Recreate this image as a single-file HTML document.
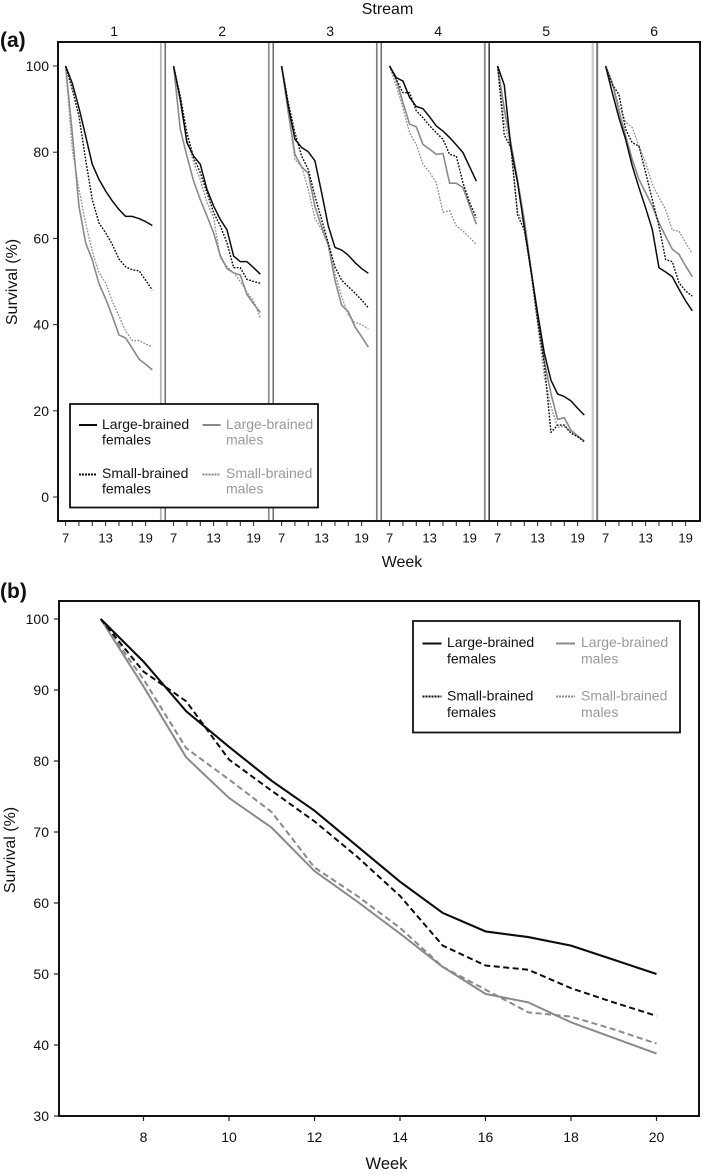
<!DOCTYPE html>
<html lang="en">
<head>
<meta charset="utf-8">
<title>Survival by stream and week</title>
<style>
html,body{margin:0;padding:0;background:#fff;}
body{width:703px;height:1175px;overflow:hidden;}
svg{display:block;font-family:"Liberation Sans",sans-serif;fill:#111;}
</style>
</head>
<body>
<svg id="chart" width="703" height="1175" viewBox="0 0 703 1175" xmlns="http://www.w3.org/2000/svg"></svg>
<script>
// ---------- panel (a): survival (%) per stream, weeks 7..20 ----------
const streamLabels = ["1", "2", "3", "4", "5", "6"];
const weeksA = [7, 8, 9, 10, 11, 12, 13, 14, 15, 16, 17, 18, 19, 20];
const yTicksA = [100, 80, 60, 40, 20, 0];
const xTicksA = [7, 9, 11, 13, 15, 17, 19];
const xTickLabelsA = [7, 13, 19];
const largeFemalesA = [
  [100, 96, 90.3, 83.8, 77.2, 73.7, 71, 68.7, 66.7, 65.1, 65.1, 64.6, 63.9, 63],
  [100, 92.3, 82.2, 79.1, 77.2, 71.4, 67.5, 64.4, 62, 55.9, 54.6, 54.6, 53.2, 51.7],
  [100, 90.7, 83, 81.1, 80.1, 78, 70.6, 62.9, 57.9, 57.3, 56.1, 54.4, 53, 51.9],
  [100, 97.3, 96.5, 92.7, 90.6, 90.1, 88.2, 86.1, 84.9, 83.4, 81.7, 79.9, 76.6, 73.3],
  [100, 95.6, 81, 72.9, 62.7, 52.7, 42.7, 33.4, 27.1, 23.9, 23.3, 22.3, 20.6, 19],
  [100, 93.8, 88, 83, 76.8, 71.8, 67.1, 62.1, 53.2, 52.2, 51.1, 48.2, 45.5, 43.2]
];
const smallFemalesA = [
  [100, 94.6, 88.4, 78.3, 69, 63.6, 61.3, 58.6, 55.2, 53.4, 52.7, 52.5, 50.3, 48],
  [100, 93, 84.5, 78.7, 75.3, 70.6, 66, 62.9, 59, 53.2, 53.2, 50.5, 50, 49.6],
  [100, 91.5, 84.5, 79.1, 76, 69.8, 64.4, 58.9, 53.4, 50.3, 48.8, 47.3, 45.7, 43.9],
  [100, 96.9, 93.8, 93.8, 89.6, 88, 86.1, 84.5, 83, 79.5, 79.1, 72.9, 68.3, 64.8],
  [100, 84, 81, 65.4, 62, 52.5, 41, 31, 15, 16.7, 16.7, 14.8, 14, 12.8],
  [100, 95.7, 93.4, 85.3, 82.2, 81.4, 75.3, 69, 62.9, 55.1, 54.6, 49.7, 47.8, 46.6]
];
const largeMalesA = [
  [100, 84.5, 67.5, 59, 55, 49.5, 46, 42, 37.6, 36.9, 34.5, 32, 30.8, 29.5],
  [100, 85.3, 79.1, 73.3, 69, 65.2, 61.3, 56, 53, 52, 51.5, 47, 44.8, 42.8],
  [100, 89.2, 79.5, 76.6, 75.1, 67.4, 62.7, 58.5, 50.3, 44.5, 43, 39.5, 37.2, 34.8],
  [100, 96.9, 91.5, 86.5, 85.9, 81.8, 80.7, 79.5, 79.7, 72.8, 72.8, 71.8, 67.5, 63.3],
  [100, 90, 82, 73.5, 64.3, 53, 41.5, 31.5, 24, 18, 18.4, 15.5, 14.2, 13],
  [100, 96.1, 89.6, 83.8, 78.3, 73.7, 70.6, 67.5, 63.6, 60.5, 57.5, 56.3, 53.6, 51.1]
];
const smallMalesA = [
  [100, 80.7, 71.4, 63.6, 57, 52, 49.7, 45.4, 42, 38.5, 36.3, 36.3, 35.5, 34.8],
  [100, 91.5, 83, 77.6, 73.7, 68.3, 64.8, 55.5, 53.5, 52, 50, 47.5, 45.5, 41.5],
  [100, 90, 78.2, 76.8, 71.2, 64.7, 62, 58.5, 52, 46.5, 42.2, 40.5, 40, 39],
  [100, 95.4, 90.3, 84.5, 81.8, 77.2, 75.3, 72.9, 66.1, 66.4, 62.9, 61.7, 60.2, 58.6],
  [100, 87, 81, 66, 63.5, 52, 40, 28, 21, 16.2, 16.4, 15.2, 14, 13],
  [100, 96.1, 90.7, 87, 85.7, 81.4, 77.6, 72.6, 69.5, 66.7, 61.9, 61.7, 59, 56.5]
];

// ---------- panel (b): pooled survival (%), weeks 7..20 ----------
const weeksB = [7, 8, 9, 10, 11, 12, 13, 14, 15, 16, 17, 18, 19, 20];
const yTicksB = [100, 90, 80, 70, 60, 50, 40, 30];
const xTicksB = [8, 10, 12, 14, 16, 18, 20];
const largeFemalesB = [100, 94, 87, 82, 77.2, 73, 68, 63, 58.6, 56, 55.2, 54, 52, 50];
const smallFemalesB = [100, 92.6, 88.4, 80.2, 75.8, 71.5, 66.5, 61, 54, 51.2, 50.6, 48, 46, 44.1];
const largeMalesB = [100, 90.5, 80.5, 74.8, 70.6, 64.5, 60.2, 55.7, 51, 47.2, 46, 43.2, 41, 38.8];
const smallMalesB = [100, 91.5, 81.8, 77.4, 72.8, 65, 61, 56.5, 51, 47.8, 44.6, 44, 42.2, 40.2];

// ---------- axis functions ----------
function yA(v) { return 497 - 4.31 * v; }
function xA(stream, w) { return 65.6 + 108 * stream + (w - 7) * 6.67; }
function yB(v) { return 1116 - 7.1 * (v - 30); }
function xB(w) { return 143.5 + (w - 8) * 42.75; }

// ---------- drawing helpers ----------
const NS = "http://www.w3.org/2000/svg";
const root = document.getElementById("chart");
const BLACK = "#0c0c0c", GREY = "#8a8a8a";

function make(tag, attrs, parent) {
  const el = document.createElementNS(NS, tag);
  for (const k in attrs) el.setAttribute(k, attrs[k]);
  (parent || root).appendChild(el);
  return el;
}
function label(str, x, y, size, anchor, fill, weight, parent) {
  const t = make("text", { x: x, y: y, "font-size": size, "text-anchor": anchor || "start", fill: fill || "#111", "font-weight": weight || "normal" }, parent);
  t.textContent = str;
  return t;
}
function seg(x1, y1, x2, y2, color, width, dash, parent) {
  const a = { x1: x1, y1: y1, x2: x2, y2: y2, stroke: color, "stroke-width": width };
  if (dash) a["stroke-dasharray"] = dash;
  return make("line", a, parent);
}
function linePath(weeks, values, xf, yf, color, width, dash, parent) {
  const d = values.map(function (v, i) { return (i ? "L" : "M") + xf(weeks[i]).toFixed(2) + " " + yf(v).toFixed(2); }).join(" ");
  const a = { d: d, fill: "none", stroke: color, "stroke-width": width, "stroke-linejoin": "round" };
  if (dash) a["stroke-dasharray"] = dash;
  return make("path", a, parent);
}

// ---------- panel (a) ----------
const panelA = make("g", {});



const tagA = label("(a)", 0, 47, 21, "start", "#111", "bold");



const streamTitle = label("Stream", 387.5, 14, 16, "middle");



const yTitleA = label("Survival (%)", 0, 0, 16, "middle");
yTitleA.setAttribute("transform", "translate(17 282) rotate(-90)");



const xTitleA = label("Week", 402, 567, 16, "middle");



const lightSep = ["#b4b4b4", "#8c8c8c", "#808080", "#8c8c8c", "#cfcfcf"];
const darkSep = ["#555", "#555", "#555", "#333", "#777"];
const sepW = [1.3, 1.3, 1.3, 1.5, 2];
for (let s = 1; s < 6; s++) {
  const xd = xA(s, 7) - 8.4;
  const l1 = seg(xd - 4.4, 42, xd - 4.4, 521, lightSep[s - 1], sepW[s - 1] + 0.4, null, panelA);
  
  
  const l2 = seg(xd, 42, xd, 521, darkSep[s - 1], sepW[s - 1], null, panelA);
  
  
}

const frameA = make("rect", { x: 58, y: 42, width: 642, height: 479, fill: "none", stroke: "#111", "stroke-width": 2 }, panelA);



yTicksA.forEach(function (v) {
  const t = seg(53, yA(v), 58, yA(v), "#222", 1, null, panelA);
  
  
  const l = label(String(v), 49, yA(v) + 5, 14, "end", "#111", "normal", panelA);
  
  
});

streamLabels.forEach(function (name, s) {
  const n = label(name, xA(s, 7) + 48.5, 36, 14, "middle", "#111", "normal", panelA);
  
  
  xTicksA.forEach(function (w) {
    const t = seg(xA(s, w), 521, xA(s, w), 526, "#222", 1, null, panelA);
    
    
  });
  xTickLabelsA.forEach(function (w) {
    const l = label(String(w), xA(s, w), 542.5, 13, "middle", "#111", "normal", panelA);
    
    
  });
  const xf = function (w) { return xA(s, w); };
  const sm = linePath(weeksA, smallMalesA[s], xf, yA, "#8f8f8f", 1.3, "1.8 1.4", panelA);
  
  
  const lm = linePath(weeksA, largeMalesA[s], xf, yA, GREY, 1.6, null, panelA);
  
  
  const sf = linePath(weeksA, smallFemalesA[s], xf, yA, BLACK, 1.4, "1.8 1.4", panelA);
  
  
  const lf = linePath(weeksA, largeFemalesA[s], xf, yA, BLACK, 1.5, null, panelA);
  
  
});

// ---------- legends ----------
function drawLegend(group, bx, by, bw, bh, size, ly1, ly2, tx1, tx2, lx1, lx2, lineLen, rows, solidW, dashStr, dashW, gap) {
  const box = make("rect", { x: bx, y: by, width: bw, height: bh, fill: "#fff", stroke: "#111", "stroke-width": 1.8 }, group);
  
  
  const a = seg(lx1, ly1, lx1 + lineLen, ly1, BLACK, solidW, null, group);
  
  
  const b = seg(lx2, ly1, lx2 + lineLen, ly1, GREY, solidW, null, group);
  
  
  const c = seg(lx1, ly2, lx1 + lineLen, ly2, BLACK, dashW, dashStr, group);
  
  
  const d = seg(lx2, ly2, lx2 + lineLen, ly2, GREY, dashW, dashStr, group);
  
  

  const t1 = label("Large-brained", tx1, rows[0], size, "start", "#111", "normal", group);
  
  
  const t2 = label("females", tx1, rows[0] + gap, size, "start", "#111", "normal", group);
  
  
  const t3 = label("Large-brained", tx2, rows[0], size, "start", "#999", "normal", group);
  
  
  const t4 = label("males", tx2, rows[0] + gap, size, "start", "#999", "normal", group);
  
  
  const t5 = label("Small-brained", tx1, rows[1], size, "start", "#111", "normal", group);
  
  
  const t6 = label("females", tx1, rows[1] + gap, size, "start", "#111", "normal", group);
  
  
  const t7 = label("Small-brained", tx2, rows[1], size, "start", "#999", "normal", group);
  
  
  const t8 = label("males", tx2, rows[1] + gap, size, "start", "#999", "normal", group);
  
  
}

const legendA = make("g", {}, panelA);


drawLegend(legendA, 70, 404, 248, 103.5, 14, 425, 474.5, 102, 226, 79, 202.5, 18, [429, 478], 2, "2 1", 2, 15.5);

// ---------- panel (b) ----------
const panelB = make("g", {});



const tagB = label("(b)", 0, 598, 21, "start", "#111", "bold", panelB);



const frameB = make("rect", { x: 59, y: 601, width: 640, height: 515, fill: "none", stroke: "#111", "stroke-width": 2 }, panelB);



const yTitleB = label("Survival (%)", 0, 0, 16, "middle", "#111", "normal", panelB);
yTitleB.setAttribute("transform", "translate(15 850) rotate(-90)");



const xTitleB = label("Week", 386.5, 1169, 16.5, "middle", "#111", "normal", panelB);



yTicksB.forEach(function (v) {
  const t = seg(54, yB(v), 59, yB(v), "#222", 1.2, null, panelB);
  
  
  const l = label(String(v), 49, yB(v) + 5, 14, "end", "#111", "normal", panelB);
  
  
});
xTicksB.forEach(function (w) {
  const t = seg(xB(w), 1116, xB(w), 1121, "#222", 1.2, null, panelB);
  
  
  const l = label(String(w), xB(w), 1142, 14, "middle", "#111", "normal", panelB);
  
  
});

const bLM = linePath(weeksB, largeMalesB, xB, yB, GREY, 2, null, panelB);


const bSM = linePath(weeksB, smallMalesB, xB, yB, GREY, 2, "6 3.5", panelB);


const bSF = linePath(weeksB, smallFemalesB, xB, yB, BLACK, 2, "6 3.5", panelB);


const bLF = linePath(weeksB, largeFemalesB, xB, yB, BLACK, 2.1, null, panelB);



const legendB = make("g", {}, panelB);


drawLegend(legendB, 413, 621, 267, 111.5, 14, 643.5, 696.5, 447, 581, 422.5, 556, 19, [647, 700.5], 2, "2 1", 2, 16.5);
</script>
</body>
</html>
